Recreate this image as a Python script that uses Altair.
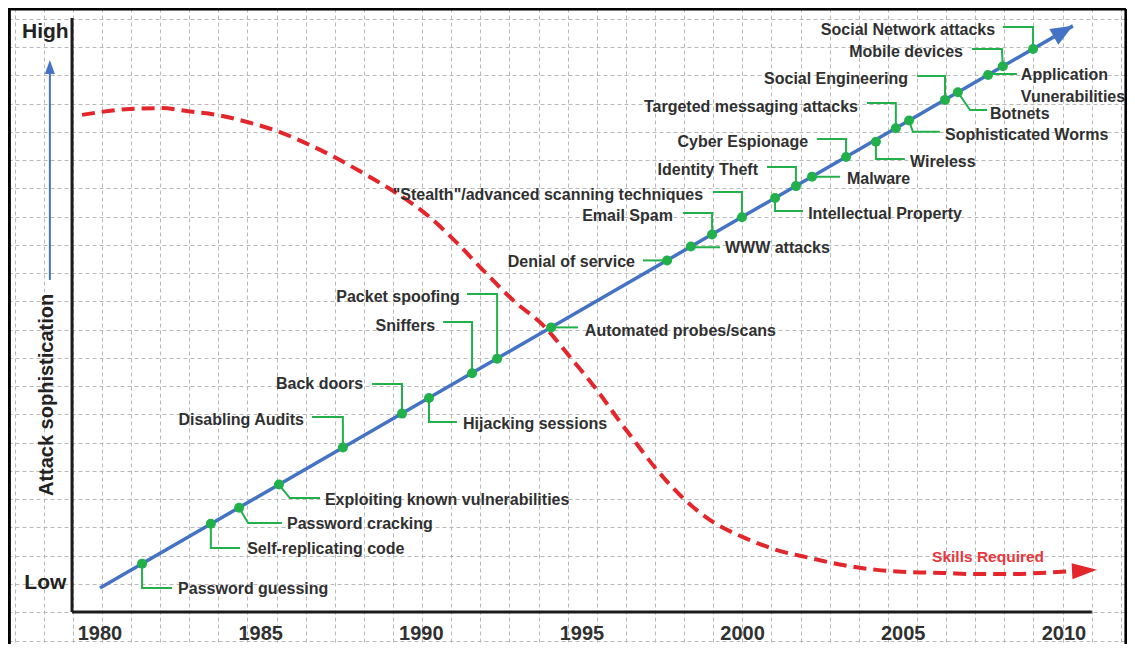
import altair as alt
import pandas as pd

# ---------------- data ----------------
event_names = [
    "Password guessing", "Self-replicating code", "Password cracking",
    "Exploiting known vulnerabilities", "Disabling Audits", "Back doors",
    "Hijacking sessions", "Sniffers", "Packet spoofing", "Automated probes/scans",
    "Denial of service", "WWW attacks", "Email Spam", "Stealth scanning",
    "Intellectual Property", "Identity Theft", "Malware", "Cyber Espionage",
    "Wireless", "Targeted messaging attacks", "Sophisticated Worms",
    "Social Engineering", "Botnets", "Application Vunerabilities",
    "Mobile devices", "Social Network attacks",
]
event_year = [1981.31, 1983.45, 1984.33, 1985.57, 1987.56, 1989.40, 1990.24, 1991.58,
              1992.36, 1994.04, 1997.65, 1998.39, 1999.05, 1999.98, 2001.01, 2001.66,
              2002.16, 2003.22, 2004.15, 2004.77, 2005.18, 2006.30, 2006.70, 2007.64,
              2008.10, 2009.04]
event_level = [0.72, 2.13, 2.70, 3.52, 4.83, 6.03, 6.58, 7.46, 7.97, 9.08,
               11.45, 11.94, 12.37, 12.98, 13.66, 14.08, 14.41, 15.11, 15.65, 16.13,
               16.40, 17.13, 17.40, 18.01, 18.32, 18.93]

# leader (callout) elbows and ends
elbow_year = [1981.31, 1983.45, 1984.61, 1985.91, 1987.56, 1989.40, 1990.24, 1991.58,
              1992.36, 1994.04, 1997.65, 1998.39, 1999.05, 1999.98, 2001.01, 2001.66,
              2002.16, 2003.22, 2004.15, 2004.77, 2005.30, 2006.30, 2007.08, 2007.64,
              2008.07, 2009.04]
elbow_level = [-0.14, 1.27, 2.16, 3.04, 5.91, 7.08, 5.73, 9.27, 10.26, 9.08,
               11.45, 11.92, 13.13, 13.87, 13.20, 14.76, 14.41, 15.75, 15.04, 17.02,
               16.00, 17.98, 16.77, 18.05, 18.93, 19.71]
end_year = [1982.24, 1984.36, 1985.66, 1986.85, 1986.60, 1988.47, 1991.11, 1990.68,
            1991.42, 1994.88, 1996.90, 1999.30, 1998.14, 1999.08, 2001.88, 2000.76,
            2003.03, 2002.32, 2005.05, 2003.87, 2006.14, 2005.43, 2007.61, 2008.54,
            2007.14, 2008.10]
end_level = [-0.14, 1.27, 2.16, 3.04, 5.91, 7.08, 5.73, 9.27, 10.26, 9.08,
             11.45, 11.92, 13.13, 13.87, 13.20, 14.76, 14.41, 15.75, 15.04, 17.02,
             16.00, 17.98, 16.77, 18.05, 18.93, 19.71]

label_text = [
    "Password guessing", "Self-replicating code", "Password cracking",
    "Exploiting known vulnerabilities", "Disabling Audits", "Back doors",
    "Hijacking sessions", "Sniffers", "Packet spoofing", "Automated probes/scans",
    "Denial of service", "WWW attacks", "Email Spam",
    "\"Stealth\"/advanced scanning techniques", "Intellectual Property",
    "Identity Theft", "Malware", "Cyber Espionage", "Wireless",
    "Targeted messaging attacks", "Sophisticated Worms", "Social Engineering",
    "Botnets", "Application", "Vunerabilities", "Mobile devices",
    "Social Network attacks",
]
label_year = [1982.43, 1984.58, 1985.82, 1987.00, 1986.35, 1988.19, 1991.30, 1990.43,
              1991.20, 1995.09, 1996.65, 1999.45, 1997.83, 1998.77, 2002.04, 2000.48,
              2003.25, 2002.04, 2005.21, 2003.59, 2006.30, 2005.15, 2007.70, 2008.66,
              2008.66, 2006.86, 2007.86]
label_level = [-0.18, 1.24, 2.12, 2.97, 5.80, 7.08, 5.66, 9.13, 10.16, 8.95,
               11.39, 11.89, 13.02, 13.76, 13.09, 14.65, 14.34, 15.64, 14.93, 16.88,
               15.89, 17.87, 16.63, 18.01, 17.23, 18.83, 19.60]
label_side = ["left", "left", "left", "left", "right", "right", "left", "right",
              "right", "left", "right", "left", "right", "right", "left", "right",
              "left", "right", "left", "right", "left", "right", "left", "left",
              "left", "right", "right"]

# "Skills Required" curve
skill_year = [1979.44, 1980.93, 1981.87, 1982.74, 1983.64, 1984.58, 1985.60, 1986.54,
              1987.47, 1988.40, 1989.18, 1990.18, 1991.11, 1991.92, 1992.85, 1993.85,
              1994.63, 1995.47, 1996.12, 1996.59, 1997.34, 1998.05, 1998.99, 2000.01,
              2001.07, 2002.10, 2003.12, 2004.18, 2005.21, 2006.24, 2007.30, 2008.32,
              2009.26, 2010.25]
skill_level = [16.60, 16.81, 16.84, 16.73, 16.60, 16.35, 15.99, 15.53, 15.00, 14.40,
               13.87, 13.06, 12.07, 11.11, 10.05, 9.09, 8.03, 6.86, 5.84, 5.13,
               4.03, 3.15, 2.26, 1.66, 1.20, 0.92, 0.67, 0.50, 0.42, 0.39,
               0.35, 0.35, 0.39, 0.46]
skill_tip = [2011.03, 0.50]

# attack sophistication trend
trend_year = [1980.0, 2010.28]
trend_level = [-0.14, 19.75]

tick_years = [1980, 1985, 1990, 1995, 2000, 2005, 2010]
level_labels = ["Low", "High"]
level_values = [0.04, 19.53]

# frame of the diagram
axis_year = 1979.13
axis_level = -0.99
axis_top = 20.03
axis_right = 2010.87
side_arrow_year = 1978.44
side_arrow_from = 10.76
side_arrow_to = 18.54

X_DOMAIN = [1977.137, 2011.964]
Y_DOMAIN = [-2.123, 20.382]
W, H = 1119, 636

grid_x = [round(1980.06 + 0.906 * k, 3) for k in range(-3, 36)]
grid_y = list(range(-2, 21))

# ---------------- styles ----------------
FONT = "Liberation Sans"
GREEN = "#22b04b"
BLUE = "#4472c4"
RED = "#e3262b"
TXT = "#303030"
GRID = "#b9b9b9"

sx = alt.Scale(domain=X_DOMAIN, nice=False, zero=False)
sy = alt.Scale(domain=Y_DOMAIN, nice=False, zero=False)
ax = alt.Axis(values=grid_x, grid=True, gridColor=GRID, gridDash=[4, 3], gridWidth=1,
              labels=False, ticks=False, domain=False, title=None)
ay = alt.Axis(values=grid_y, grid=True, gridColor=GRID, gridDash=[4, 3], gridWidth=1,
              labels=False, ticks=False, domain=False, title=None)


def X(f):
    return alt.X(f, type="quantitative", scale=sx, axis=ax)


def Y(f):
    return alt.Y(f, type="quantitative", scale=sy, axis=ay)


# ---------------- frames ----------------
rows = []
for i, n in enumerate(event_names):
    rows.append(dict(name=n, o=0, x=event_year[i], y=event_level[i]))
    rows.append(dict(name=n, o=1, x=elbow_year[i], y=elbow_level[i]))
    rows.append(dict(name=n, o=2, x=end_year[i], y=end_level[i]))
leader_df = pd.DataFrame(rows)
events_df = pd.DataFrame({"name": event_names, "x": event_year, "y": event_level})
labels_df = pd.DataFrame({"text": label_text, "x": label_year, "y": label_level,
                          "side": label_side})
skill_df = pd.DataFrame({"x": skill_year, "y": skill_level})
trend_df = pd.DataFrame({"x": trend_year, "y": trend_level})
ticks_df = pd.DataFrame({"x": tick_years, "t": [str(t) for t in tick_years],
                         "y": [-1.77] * len(tick_years)})
levels_df = pd.DataFrame({"t": level_labels, "y": level_values, "x": [1978.30] * 2})
frame_df = pd.DataFrame({
    "x": [axis_year, axis_year],
    "x2": [axis_year, axis_right],
    "y": [axis_level, axis_level],
    "y2": [axis_top, axis_level],
})
border_df = pd.DataFrame({
    "x": [X_DOMAIN[0], 1977.18, 2011.93],
    "x2": [2011.93, 1977.18, 2011.93],
    "y": [20.35, Y_DOMAIN[0], Y_DOMAIN[0]],
    "y2": [20.35, 20.35, 20.35],
})

# ---------------- layers ----------------
skill_line = alt.Chart(skill_df).mark_line(
    color=RED, strokeWidth=4, strokeDash=[13, 7], interpolate="monotone"
).encode(x=X("x"), y=Y("y"))

skill_head = alt.Chart(pd.DataFrame({"x": [skill_tip[0]], "y": [skill_tip[1]]})).mark_point(
    shape="M0,0L0.8,2.5L-0.8,2.5Z", size=400, filled=True, color=RED, opacity=1,
    strokeWidth=0, angle=87
).encode(x=X("x"), y=Y("y"))

trend_line = alt.Chart(trend_df).mark_line(color=BLUE, strokeWidth=3.5).encode(
    x=X("x"), y=Y("y"))

trend_head = alt.Chart(trend_df.tail(1)).mark_point(
    shape="M0,0L0.9,2.2L-0.9,2.2Z", size=400, filled=True, color=BLUE, opacity=1,
    strokeWidth=0, angle=60
).encode(x=X("x"), y=Y("y"))

leaders = alt.Chart(leader_df).mark_line(color=GREEN, strokeWidth=2).encode(
    x=X("x"), y=Y("y"), detail="name:N", order="o:Q")

dots = alt.Chart(events_df).mark_circle(size=100, color=GREEN, opacity=1).encode(
    x=X("x"), y=Y("y"))

labels_left = alt.Chart(labels_df).transform_filter(alt.datum.side == "left").mark_text(
    align="left", baseline="middle", font=FONT, fontSize=16, fontWeight="bold", color=TXT
).encode(x=X("x"), y=Y("y"), text="text:N")

labels_right = alt.Chart(labels_df).transform_filter(alt.datum.side == "right").mark_text(
    align="right", baseline="middle", font=FONT, fontSize=16, fontWeight="bold", color=TXT
).encode(x=X("x"), y=Y("y"), text="text:N")

frame = alt.Chart(frame_df).mark_rule(color="#1c1c1c", strokeWidth=3).encode(
    x=X("x"), x2="x2:Q", y=Y("y"), y2="y2:Q")

border = alt.Chart(border_df).mark_rule(color="#000000", strokeWidth=3).encode(
    x=X("x"), x2="x2:Q", y=Y("y"), y2="y2:Q")

tick_text = alt.Chart(ticks_df).mark_text(
    align="center", baseline="middle", font=FONT, fontSize=20, fontWeight="bold", color=TXT
).encode(x=X("x"), y=Y("y"), text="t:N")

level_text = alt.Chart(levels_df).mark_text(
    align="center", baseline="middle", font=FONT, fontSize=21, fontWeight="bold", color="#222222"
).encode(x=X("x"), y=Y("y"), text="t:N")

y_title = alt.Chart(pd.DataFrame({"x": [1978.35], "y": [6.69],
                                  "t": ["Attack sophistication"]})).mark_text(
    align="center", baseline="middle", font=FONT, fontSize=20, fontWeight="bold",
    color="#222222", angle=270
).encode(x=X("x"), y=Y("y"), text="t:N")

skill_text = alt.Chart(pd.DataFrame({"x": [2007.64], "y": [0.96],
                                     "t": ["Skills Required"]})).mark_text(
    align="center", baseline="middle", font=FONT, fontSize=15.5, fontWeight="bold", color="#e8383d"
).encode(x=X("x"), y=Y("y"), text="t:N")

side_df = pd.DataFrame({"x": [side_arrow_year], "y": [side_arrow_from],
                        "y2": [side_arrow_to - 0.3]})
side_line = alt.Chart(side_df).mark_rule(color=BLUE, strokeWidth=2).encode(
    x=X("x"), y=Y("y"), y2="y2:Q")
side_head = alt.Chart(pd.DataFrame({"x": [side_arrow_year], "y": [side_arrow_to]})).mark_point(
    shape="M0,0L0.5,1.4L-0.5,1.4Z", size=400, filled=True, color=BLUE, opacity=1,
    strokeWidth=0
).encode(x=X("x"), y=Y("y"))

chart = alt.layer(
    skill_line, skill_head, trend_line, trend_head, leaders, dots,
    labels_left, labels_right, frame, border, tick_text, level_text, y_title,
    skill_text, side_line, side_head
).properties(
    width=W, height=H, padding=0, autosize=alt.AutoSizeParams(type="none")
).configure_view(stroke="transparent")

chart.save("out.html", embed_options={"renderer": "svg", "actions": False})
